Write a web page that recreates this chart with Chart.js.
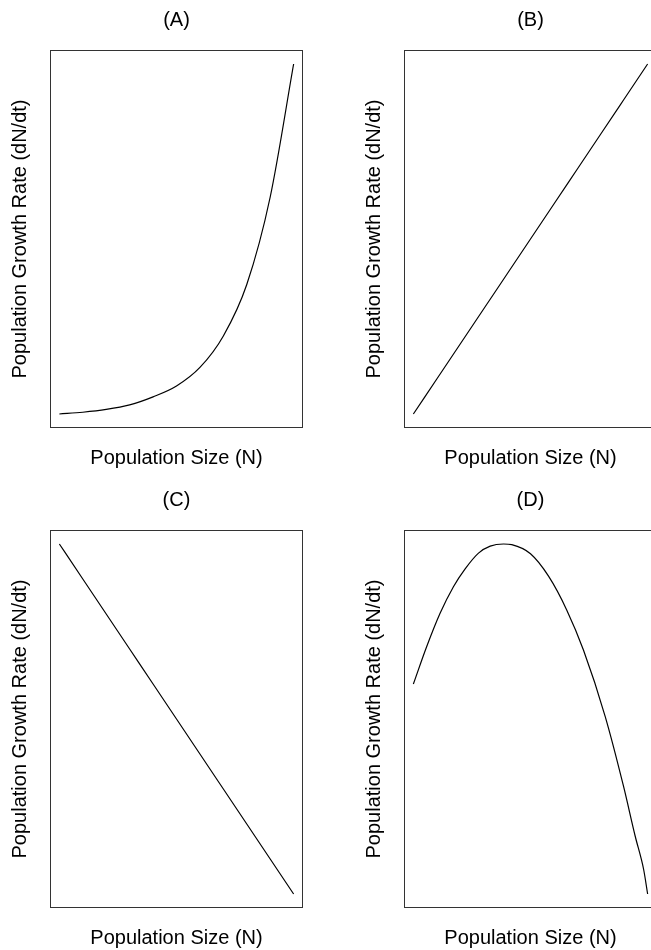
<!DOCTYPE html>
<html>
<head>
<meta charset="utf-8">
<script src="https://cdn.jsdelivr.net/npm/chart.js@4.4.1/dist/chart.umd.min.js"></script>
<style>
    html, body { margin: 0; padding: 0; background: #fff; }
    body { width: 651px; height: 950px; overflow: hidden; position: relative; }
    .panel { position: absolute; width: 353px; height: 480px; }
</style>
</head>
<body>
<div class="panel" style="left:0;top:0"><canvas id="chartA" width="353" height="480"></canvas></div>
<div class="panel" style="left:354px;top:0"><canvas id="chartB" width="353" height="480"></canvas></div>
<div class="panel" style="left:0;top:480px"><canvas id="chartC" width="353" height="480"></canvas></div>
<div class="panel" style="left:354px;top:480px"><canvas id="chartD" width="353" height="480"></canvas></div>
<script>
// population size (arbitrary units, no ticks shown)
const sizeN = [0, 1, 2, 3, 4, 5, 6, 7, 8, 9, 10];
// (A) exponential
const rateA = [0, 0.5, 1.3, 2.6, 4.9, 8.0, 13.3, 22.3, 37, 62, 100];
// (B) increasing linear
const rateB = [0, 10, 20, 30, 40, 50, 60, 70, 80, 90, 100];
// (C) decreasing linear
const rateC = [100, 90, 80, 70, 60, 50, 40, 30, 20, 10, 0];
// (D) hump shaped, read at uneven N
const sizeD = [0, 0.57, 1.14, 1.71, 2.21, 2.78, 3.28, 3.85, 4.2, 5.0, 5.77, 6.55, 7.26, 8.19, 8.97, 9.47, 9.83, 10];
const rateD = [60, 70.7, 80.2, 87.8, 92.9, 97.4, 99.4, 100, 99.8, 97.2, 90.8, 81.1, 69.7, 50.7, 30.8, 16.5, 7.0, 0];

const panelTitles = ['(A)', '(B)', '(C)', '(D)'];
const xLabel = 'Population Size (N)';
const yLabel = 'Population Growth Rate (dN/dt)';

const FONT = { family: '"Liberation Sans", Arial, sans-serif', size: 20, weight: 'normal' };

// draws the full box around the plot area
const boxPlugin = {
    id: 'box',
    afterDraw(chart) {
        const { ctx, chartArea: a } = chart;
        ctx.save();
        ctx.strokeStyle = '#333';
        ctx.lineWidth = 1;
        ctx.strokeRect(Math.round(a.left) + 0.5, Math.round(a.top) + 0.5, Math.round(a.right - a.left) - 1, Math.round(a.bottom - a.top) - 1);
        ctx.restore();
    }
};

const makePanel = (id, title, xs, ys) => {
    const ctx = document.getElementById(id).getContext('2d');
    return new Chart(ctx, {
        type: 'line',
        data: {
            datasets: [{
                data: xs.map((x, i) => ({ x: x, y: ys[i] })),
                borderColor: '#000',
                borderWidth: 1.2,
                pointRadius: 0,
                cubicInterpolationMode: 'monotone',
                fill: false
            }]
        },
        options: {
            responsive: false,
            animation: false,
            plugins: {
                legend: { display: false },
                tooltip: { enabled: false },
                title: {
                    display: true,
                    text: title,
                    color: '#000',
                    font: FONT,
                    padding: { top: 8, bottom: 18 }
                }
            },
            scales: {
                x: {
                    type: 'linear',
                    min: -0.4,
                    max: 10.4,
                    ticks: { display: false },
                    grid: { display: false },
                    border: { display: false },
                    title: { display: true, text: xLabel, color: '#000', font: FONT, padding: { top: 0, bottom: 10 } },
                    afterFit: s => { s.height = 52; }
                },
                y: {
                    min: -4,
                    max: 104,
                    ticks: { display: false },
                    grid: { display: false },
                    border: { display: false },
                    title: { display: true, text: yLabel, color: '#000', font: FONT, padding: { top: 8, bottom: 0 } },
                    afterFit: s => { s.width = 50; }
                },
                yRight: {
                    position: 'right',
                    ticks: { display: false },
                    grid: { display: false },
                    border: { display: false },
                    afterFit: s => { s.width = 50; }
                }
            }
        },
        plugins: [boxPlugin]
    });
};

makePanel('chartA', panelTitles[0], sizeN, rateA);
makePanel('chartB', panelTitles[1], sizeN, rateB);
makePanel('chartC', panelTitles[2], sizeN, rateC);
makePanel('chartD', panelTitles[3], sizeD, rateD);
</script>
</body>
</html>
